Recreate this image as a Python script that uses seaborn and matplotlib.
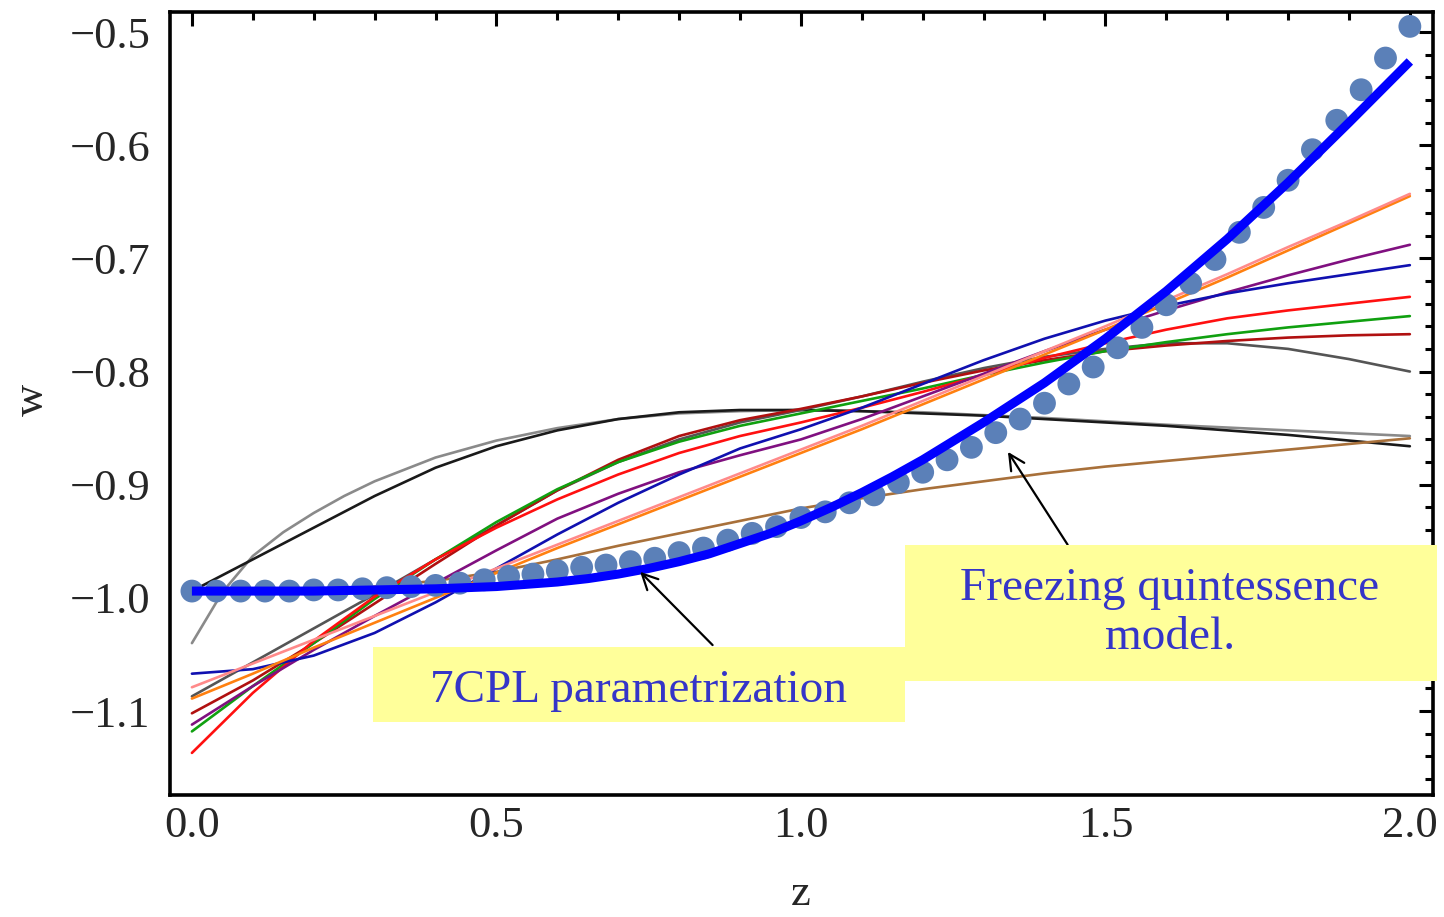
import numpy as np
import pandas as pd
import seaborn as sns
import matplotlib
matplotlib.use("Agg")
import matplotlib.pyplot as plt
from matplotlib.patches import Rectangle
from matplotlib.ticker import MultipleLocator

# ---------------- data ----------------
z_grid = [0.0, 0.1, 0.2, 0.3, 0.4, 0.5, 0.6, 0.7, 0.8, 0.9, 1.0,
          1.1, 1.2, 1.3, 1.4, 1.5, 1.6, 1.7, 1.8, 1.9, 2.0]

w_navy = [-1.067, -1.063, -1.051, -1.031, -1.004, -0.974, -0.944, -0.916, -0.891, -0.868, -0.851,
          -0.832, -0.811, -0.790, -0.771, -0.755, -0.742, -0.731, -0.722, -0.714, -0.706]
w_pink = [-1.079, -1.058, -1.037, -1.016, -0.995, -0.974, -0.953, -0.932, -0.911, -0.890, -0.869,
          -0.848, -0.826, -0.804, -0.782, -0.760, -0.737, -0.714, -0.690, -0.667, -0.643]
w_orange = [-1.089, -1.067, -1.044, -1.022, -1.000, -0.978, -0.956, -0.935, -0.914, -0.893, -0.872,
            -0.851, -0.829, -0.807, -0.785, -0.763, -0.740, -0.717, -0.693, -0.669, -0.645]
w_purple = [-1.112, -1.078, -1.046, -1.016, -0.987, -0.958, -0.930, -0.908, -0.889, -0.874, -0.860,
            -0.842, -0.822, -0.802, -0.782, -0.763, -0.746, -0.730, -0.715, -0.701, -0.688]
w_red = [-1.137, -1.084, -1.038, -0.999, -0.966, -0.938, -0.913, -0.891, -0.872, -0.857, -0.845,
         -0.832, -0.818, -0.803, -0.788, -0.775, -0.763, -0.753, -0.746, -0.740, -0.734]
w_green = [-1.118, -1.078, -1.040, -1.001, -0.966, -0.933, -0.904, -0.880, -0.862, -0.848, -0.837,
           -0.826, -0.815, -0.803, -0.792, -0.782, -0.774, -0.767, -0.761, -0.756, -0.751]
w_darkred = [-1.102, -1.073, -1.040, -1.005, -0.970, -0.936, -0.905, -0.878, -0.857, -0.843, -0.833,
             -0.822, -0.810, -0.799, -0.790, -0.782, -0.777, -0.773, -0.770, -0.768, -0.767]
w_darkgray = [-1.087, -1.057, -1.027, -0.997, -0.966, -0.936, -0.905, -0.880, -0.860, -0.845, -0.834,
              -0.822, -0.809, -0.797, -0.787, -0.780, -0.775, -0.775, -0.780, -0.789, -0.800]
w_black = [-0.994, -0.966, -0.938, -0.910, -0.885, -0.866, -0.852, -0.842, -0.836, -0.834, -0.834,
           -0.835, -0.837, -0.839, -0.842, -0.845, -0.848, -0.852, -0.856, -0.861, -0.866]
w_brown = [-0.995, -0.995, -0.993, -0.990, -0.985, -0.977, -0.966, -0.954, -0.943, -0.932, -0.921,
           -0.912, -0.904, -0.897, -0.890, -0.884, -0.879, -0.874, -0.869, -0.864, -0.859]

z_gray = [0.0, 0.05, 0.1, 0.15, 0.2, 0.25, 0.3, 0.4, 0.5, 0.6, 0.7, 0.8, 0.9, 1.0,
          1.2, 1.4, 1.6, 1.8, 2.0]
w_gray = [-1.040, -0.995, -0.963, -0.942, -0.925, -0.910, -0.897, -0.876, -0.861, -0.850, -0.842,
          -0.837, -0.835, -0.834, -0.836, -0.841, -0.847, -0.852, -0.857]

# 7CPL parametrization (thick blue)
z_cpl7 = [0.0, 0.1, 0.2, 0.3, 0.4, 0.45, 0.5, 0.55, 0.6, 0.65, 0.7, 0.75, 0.8, 0.85, 0.9,
          0.95, 1.0, 1.05, 1.1, 1.15, 1.2, 1.3, 1.4, 1.5, 1.6, 1.7, 1.8, 1.9, 2.0]
w_cpl7 = [-0.994, -0.994, -0.994, -0.993, -0.992, -0.991, -0.990, -0.988, -0.986, -0.983,
          -0.979, -0.974, -0.968, -0.961, -0.952, -0.943, -0.932, -0.920, -0.907, -0.893,
          -0.878, -0.845, -0.810, -0.771, -0.729, -0.683, -0.633, -0.580, -0.526]

# freezing quintessence model (dots)
z_freeze = [round(0.04 * i, 2) for i in range(51)]
w_freeze = [-0.994, -0.994, -0.994, -0.994, -0.994, -0.993, -0.993, -0.992, -0.991, -0.990,
            -0.989, -0.987, -0.984, -0.981, -0.979, -0.976, -0.973, -0.971, -0.968, -0.965,
            -0.960, -0.956, -0.949, -0.943, -0.937, -0.929, -0.924, -0.916, -0.909, -0.898,
            -0.889, -0.878, -0.867, -0.854, -0.842, -0.828, -0.811, -0.796, -0.779, -0.761,
            -0.741, -0.722, -0.701, -0.677, -0.655, -0.631, -0.604, -0.578, -0.551, -0.523,
            -0.495]

x_ticks = [0.0, 0.5, 1.0, 1.5, 2.0]
y_ticks = [-1.1, -1.0, -0.9, -0.8, -0.7, -0.6, -0.5]

# ---------------- style ----------------
sns.set_style("white")
plt.rcParams["font.family"] = ["Liberation Serif", "DejaVu Serif"]
plt.rcParams["axes.unicode_minus"] = True

W, H = 1444, 917
fig = plt.figure(figsize=(W / 100, H / 100), dpi=100)
ax = fig.add_axes([170 / W, 1 - 795 / H, (1433 - 170) / W, (795 - 12) / H])

series = {
    "gray": (z_gray, w_gray),
    "black": (z_grid, w_black),
    "brown": (z_grid, w_brown),
    "darkgray": (z_grid, w_darkgray),
    "darkred": (z_grid, w_darkred),
    "green": (z_grid, w_green),
    "red": (z_grid, w_red),
    "purple": (z_grid, w_purple),
    "navy": (z_grid, w_navy),
    "orange": (z_grid, w_orange),
    "pink": (z_grid, w_pink),
}
palette = {
    "gray": "#8a8a8a",
    "black": "#1a1a1a",
    "brown": "#a8703a",
    "darkgray": "#555555",
    "darkred": "#b01010",
    "green": "#10a010",
    "red": "#ff1010",
    "purple": "#801080",
    "navy": "#1010b0",
    "orange": "#ff8010",
    "pink": "#ff8a8a",
}
rows = []
for name, (zs, ws) in series.items():
    for zz, ww in zip(zs, ws):
        rows.append({"model": name, "z": zz, "w": ww})
df = pd.DataFrame(rows)

sns.lineplot(data=df, x="z", y="w", hue="model", hue_order=list(series.keys()),
             palette=palette, linewidth=1.9, legend=False, estimator=None,
             ax=ax, zorder=2)

sns.scatterplot(x=z_freeze, y=w_freeze, s=270, color="#5b80b8", edgecolor="none",
                linewidth=0, ax=ax, zorder=3)

sns.lineplot(x=z_cpl7, y=w_cpl7, color="#0000ff", linewidth=6.5, ax=ax, zorder=4,
             solid_capstyle="butt", solid_joinstyle="round")

# ---------------- axes ----------------
ax.set_xlim(-0.036, 2.038)
ax.set_ylim(-1.1742, -0.4823)
ax.set_xticks(x_ticks)
ax.set_yticks(y_ticks)
ax.xaxis.set_minor_locator(MultipleLocator(0.1))
ax.yaxis.set_minor_locator(MultipleLocator(0.02))
ax.set_xticklabels([f"{v:.1f}" for v in x_ticks])
ax.set_yticklabels([f"\u2212{abs(v):.1f}" for v in y_ticks])
ax.tick_params(which="both", direction="in", top=True, right=True, color="black", width=2.2)
ax.tick_params(which="major", length=10, labelsize=32)
ax.tick_params(which="minor", length=6)
ax.tick_params(axis="x", which="major", pad=8)
ax.tick_params(axis="y", which="major", pad=14)
for sp in ax.spines.values():
    sp.set_linewidth(2.6)
    sp.set_color("black")

ax.set_xlabel("z", fontsize=32, va="baseline")
ax.xaxis.set_label_coords(0.499, (795 - 905) / 783)
ax.set_ylabel("w", fontsize=32)
ax.yaxis.set_label_coords((52 - 170) / 1263, 0.505)

# ---------------- annotations ----------------
box_color = "#ffff9a"
text_color = "#3535c8"
fig.add_artist(Rectangle((373 / W, 1 - 722 / H), (905 - 373) / W, (722 - 647) / H,
                         transform=fig.transFigure, facecolor=box_color, edgecolor="none",
                         zorder=5))
fig.add_artist(Rectangle((905 / W, 1 - 681 / H), (1437 - 905) / W, (681 - 545) / H,
                         transform=fig.transFigure, facecolor=box_color, edgecolor="none",
                         zorder=5))
fig.text(638 / W, 1 - 702 / H, "7CPL parametrization", fontsize=34, color=text_color,
         ha="center", va="baseline", zorder=6)
fig.text(1170 / W, 1 - 613 / H, "Freezing quintessence\nmodel.", fontsize=34,
         color=text_color, ha="center", va="center", linespacing=1.2, zorder=6)

arrow_kw = dict(arrowstyle="->", color="black", lw=1.6, mutation_scale=28,
                shrinkA=0, shrinkB=0)
ax.annotate("", xy=(0.736, -0.977), xytext=(0.855, -1.0417), xycoords="data",
            textcoords="data", arrowprops=arrow_kw, annotation_clip=False, zorder=7)
ax.annotate("", xy=(1.340, -0.871), xytext=(1.438, -0.953), xycoords="data",
            textcoords="data", arrowprops=arrow_kw, annotation_clip=False, zorder=7)

fig.savefig("out.png", dpi=100)
